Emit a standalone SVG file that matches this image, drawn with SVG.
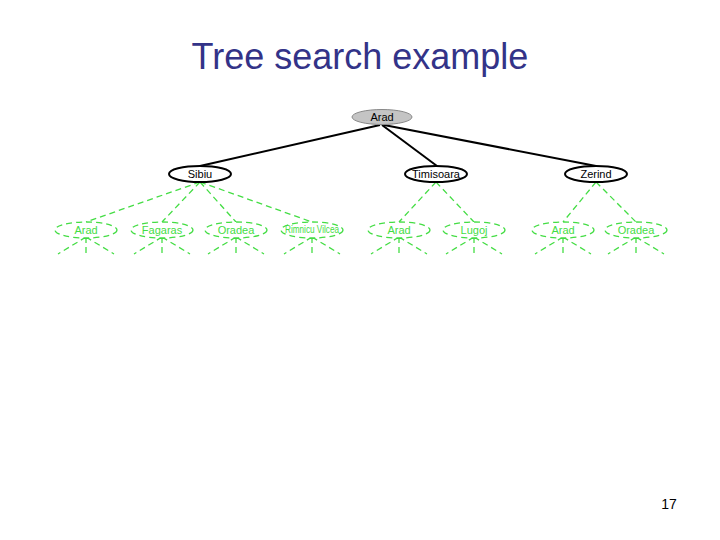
<svg xmlns="http://www.w3.org/2000/svg" width="720" height="540" viewBox="0 0 720 540">
<style>
.title{font-family:"Liberation Sans",Arial,sans-serif;font-size:36px;fill:#333388}
.lbl{font-family:"Liberation Sans",Arial,sans-serif;font-size:11px;text-anchor:middle}
.lblg{font-family:"Liberation Sans",Arial,sans-serif;font-size:11px;text-anchor:middle;fill:#44dd44}
.solid{fill:#fff;stroke:#000;stroke-width:2}
.root{fill:#c4c4c4;stroke:#888;stroke-width:1}
.dash{fill:none;stroke:#44dd44;stroke-width:1.3;stroke-dasharray:6 4}
.node{fill:#fff;stroke:#44dd44;stroke-width:1.3;stroke-dasharray:6 4}
.edge{stroke:#000;stroke-width:2;fill:none}
</style>
<rect width="720" height="540" fill="#fff"/>
<text class="title" x="360" y="69" text-anchor="middle">Tree search example</text>
<text x="669" y="509" font-family="Liberation Sans,Arial,sans-serif" font-size="14" text-anchor="middle">17</text>
<g id="connectors">
<line class="edge" x1="380" y1="125" x2="200" y2="166"/>
<line class="edge" x1="382" y1="125" x2="437" y2="166"/>
<line class="edge" x1="384" y1="125" x2="596" y2="166"/>
<line class="dash" x1="200" y1="182" x2="86" y2="222"/>
<line class="dash" x1="200" y1="182" x2="162" y2="222"/>
<line class="dash" x1="200" y1="182" x2="236" y2="222"/>
<line class="dash" x1="200" y1="182" x2="312" y2="222"/>
<line class="dash" x1="436" y1="182" x2="399" y2="222"/>
<line class="dash" x1="436" y1="182" x2="474" y2="222"/>
<line class="dash" x1="596" y1="182" x2="563" y2="222"/>
<line class="dash" x1="596" y1="182" x2="636" y2="222"/>
<g id="leafedges">
<path class="dash" d="M86 237L58 254M86 237V254M86 237L114 254"/>
<path class="dash" d="M162 237L134 254M162 237V254M162 237L190 254"/>
<path class="dash" d="M236 237L208 254M236 237V254M236 237L264 254"/>
<path class="dash" d="M312 237L284 254M312 237V254M312 237L340 254"/>
<path class="dash" d="M399 237L371 254M399 237V254M399 237L427 254"/>
<path class="dash" d="M474 237L446 254M474 237V254M474 237L502 254"/>
<path class="dash" d="M563 237L535 254M563 237V254M563 237L591 254"/>
<path class="dash" d="M636 237L608 254M636 237V254M636 237L664 254"/>
</g>
</g>
<g id="n-arad"><ellipse class="root" cx="382" cy="117" rx="30" ry="7.5"/><text class="lbl" x="382" y="121">Arad</text></g>
<g id="n-sibiu"><ellipse class="solid" cx="200" cy="174" rx="31" ry="8"/><text class="lbl" x="200" y="178">Sibiu</text></g>
<g id="n-timisoara"><ellipse class="solid" cx="436" cy="174" rx="31" ry="8"/><text class="lbl" x="436" y="178">Timisoara</text></g>
<g id="n-zerind"><ellipse class="solid" cx="596" cy="174" rx="31" ry="8"/><text class="lbl" x="596" y="178">Zerind</text></g>
<g id="n-arad2"><ellipse class="node" cx="86" cy="230" rx="31" ry="8"/><text class="lblg" x="86" y="234">Arad</text></g>
<g id="n-fagaras"><ellipse class="node" cx="162" cy="230" rx="31" ry="8"/><text class="lblg" x="162" y="234">Fagaras</text></g>
<g id="n-oradea1"><ellipse class="node" cx="236" cy="230" rx="31" ry="8"/><text class="lblg" x="236" y="234">Oradea</text></g>
<g id="n-rimnicu"><ellipse class="node" cx="312" cy="230" rx="31" ry="8"/><text class="lblg" x="312" y="233" font-size="8" textLength="54" lengthAdjust="spacingAndGlyphs">Rimnicu Vilcea</text></g>
<g id="n-arad3"><ellipse class="node" cx="399" cy="230" rx="31" ry="8"/><text class="lblg" x="399" y="234">Arad</text></g>
<g id="n-lugoj"><ellipse class="node" cx="474" cy="230" rx="31" ry="8"/><text class="lblg" x="474" y="234">Lugoj</text></g>
<g id="n-arad4"><ellipse class="node" cx="563" cy="230" rx="31" ry="8"/><text class="lblg" x="563" y="234">Arad</text></g>
<g id="n-oradea2"><ellipse class="node" cx="636" cy="230" rx="31" ry="8"/><text class="lblg" x="636" y="234">Oradea</text></g>
</svg>
